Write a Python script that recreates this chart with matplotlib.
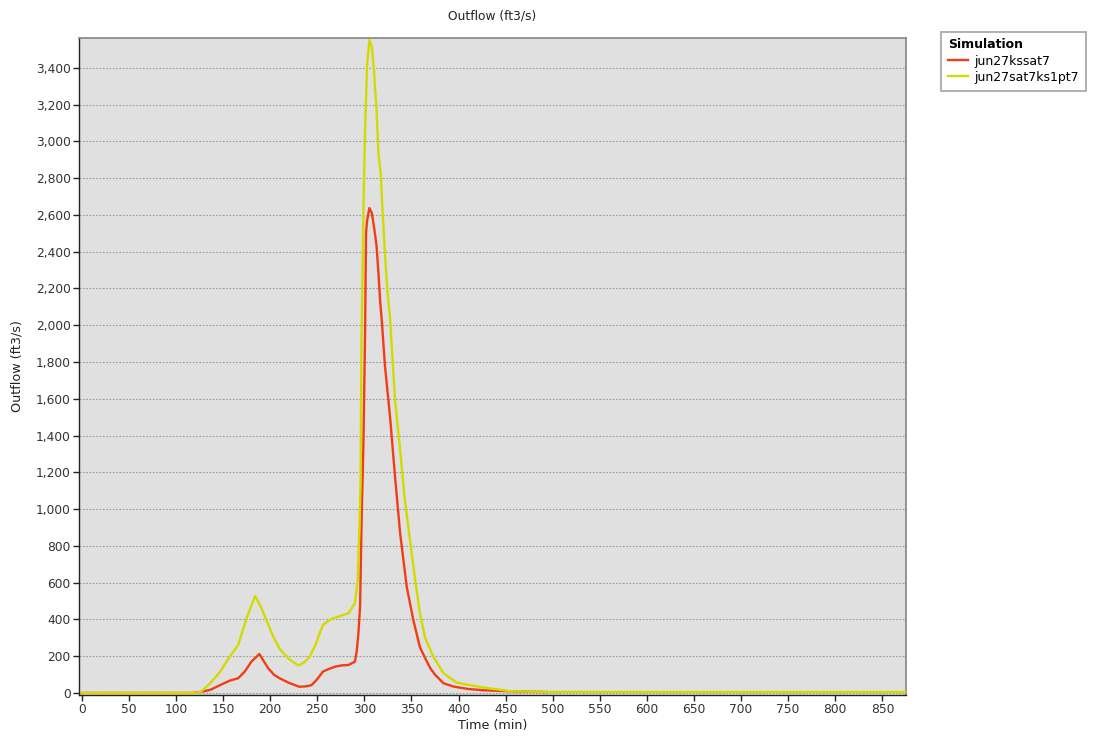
import matplotlib
matplotlib.use("Agg")
import matplotlib.pyplot as plt
from matplotlib.ticker import FuncFormatter, MultipleLocator

# ---- data ----
red_label = "jun27kssat7"
red_t = [0, 118, 125, 136, 147, 157, 166, 173, 180, 188.6, 193, 198, 204, 210, 220, 231, 238, 244,
         250, 256, 262, 269, 276, 283, 290, 292, 293.7, 295.5, 297.3, 299, 300.8, 301.8, 303, 305.4,
         308, 310.7, 313, 315, 316.7, 318.5, 322, 327.3, 332.6, 338, 345, 352, 359, 364.5, 370, 375,
         384, 394.6, 410, 426, 450, 494]
red_v = [0, 0, 5, 16, 43, 67, 80, 116, 170, 212, 175, 134, 100, 80, 55, 34, 36, 43,
         75, 116, 130, 143, 150, 152, 170, 230, 325, 469, 995, 1339, 1956, 2501, 2572, 2637,
         2610, 2520, 2430, 2283, 2137, 2028, 1774, 1502, 1176, 869, 578, 397, 250, 190, 135, 100,
         53, 35, 22, 15, 10, 5]

yel_label = "jun27sat7ks1pt7"
yel_t = [0, 120, 126, 136, 147, 157, 166, 175, 184, 190, 196, 203, 210, 220, 230, 236, 242, 248,
         256, 264, 272, 283, 290, 293, 294.7, 296, 297, 298, 299.5, 301, 303, 305.4, 308, 310, 313,
         315, 317.4, 319.5, 322, 324.6, 327.3, 332.6, 338, 343, 348.5, 354, 359, 364.5, 373, 384,
         398, 426, 455, 480, 500, 600, 875]
yel_v = [0, 0, 5, 50, 116, 197, 261, 406, 527, 470, 397, 310, 240, 185, 150, 165, 197, 260,
         370, 400, 415, 433, 488, 614, 886, 1141, 1920, 2250, 2750, 3100, 3420, 3551, 3513, 3400, 3170,
         2935, 2827, 2610, 2380, 2180, 2040, 1593, 1321, 1050, 832, 614, 435, 300, 200, 108,
         56, 30, 10, 7, 6, 5, 5]

title = "Outflow (ft3/s)"
xlabel = "Time (min)"
ylabel = "Outflow (ft3/s)"
legend_title = "Simulation"

# ---- figure ----
plt.rcParams['font.family'] = ['DejaVu Sans']
fig = plt.figure(figsize=(10.96, 7.45), dpi=100)
ax = fig.add_axes([0.0721, 0.0671, 0.7543, 0.8819])
ax.set_facecolor("#E0E0E0")

l1, = ax.plot(red_t, red_v, color="#F23D14", lw=1.7, zorder=3)
l2, = ax.plot(yel_t, yel_v, color="#D2DB00", lw=1.7, zorder=4)

ax.set_xlim(-2.9, 874.8)
ax.set_ylim(-11, 3562)
ax.xaxis.set_major_locator(MultipleLocator(50))
ax.yaxis.set_major_locator(MultipleLocator(200))
ax.yaxis.set_major_formatter(FuncFormatter(lambda v, p: f"{int(v):,}"))

ax.grid(axis="y", color="#9A9A9A", linestyle=(0, (1.5, 1.5)), linewidth=0.8)
ax.set_axisbelow(True)

for s in ["left", "bottom"]:
    ax.spines[s].set_color("#222222")
    ax.spines[s].set_linewidth(1.0)
for s in ["top", "right"]:
    ax.spines[s].set_color("#8C8C8C")
    ax.spines[s].set_linewidth(1.3)

ax.tick_params(axis="both", direction="out", length=4, width=1, color="#222222",
               labelsize=8.8, labelcolor="#333333", pad=2)

ax.set_title(title, fontsize=8.8, color="#222222", pad=13)
ax.set_xlabel(xlabel, fontsize=9.2, color="#222222", labelpad=2)
ax.set_ylabel(ylabel, fontsize=9.2, color="#222222", labelpad=9)

leg = fig.legend([l1, l2], [red_label, yel_label], title=legend_title,
                 loc="upper left", bbox_to_anchor=(0.853, 0.966),
                 fontsize=9, title_fontsize=9, frameon=True, fancybox=False,
                 edgecolor="#8C8C8C", handlelength=1.6, handletextpad=0.5,
                 borderpad=0.55, labelspacing=0.25, alignment="left")
leg.get_title().set_fontweight("bold")
leg.get_frame().set_linewidth(1.2)

fig.savefig("out.png", dpi=100, facecolor="white")
